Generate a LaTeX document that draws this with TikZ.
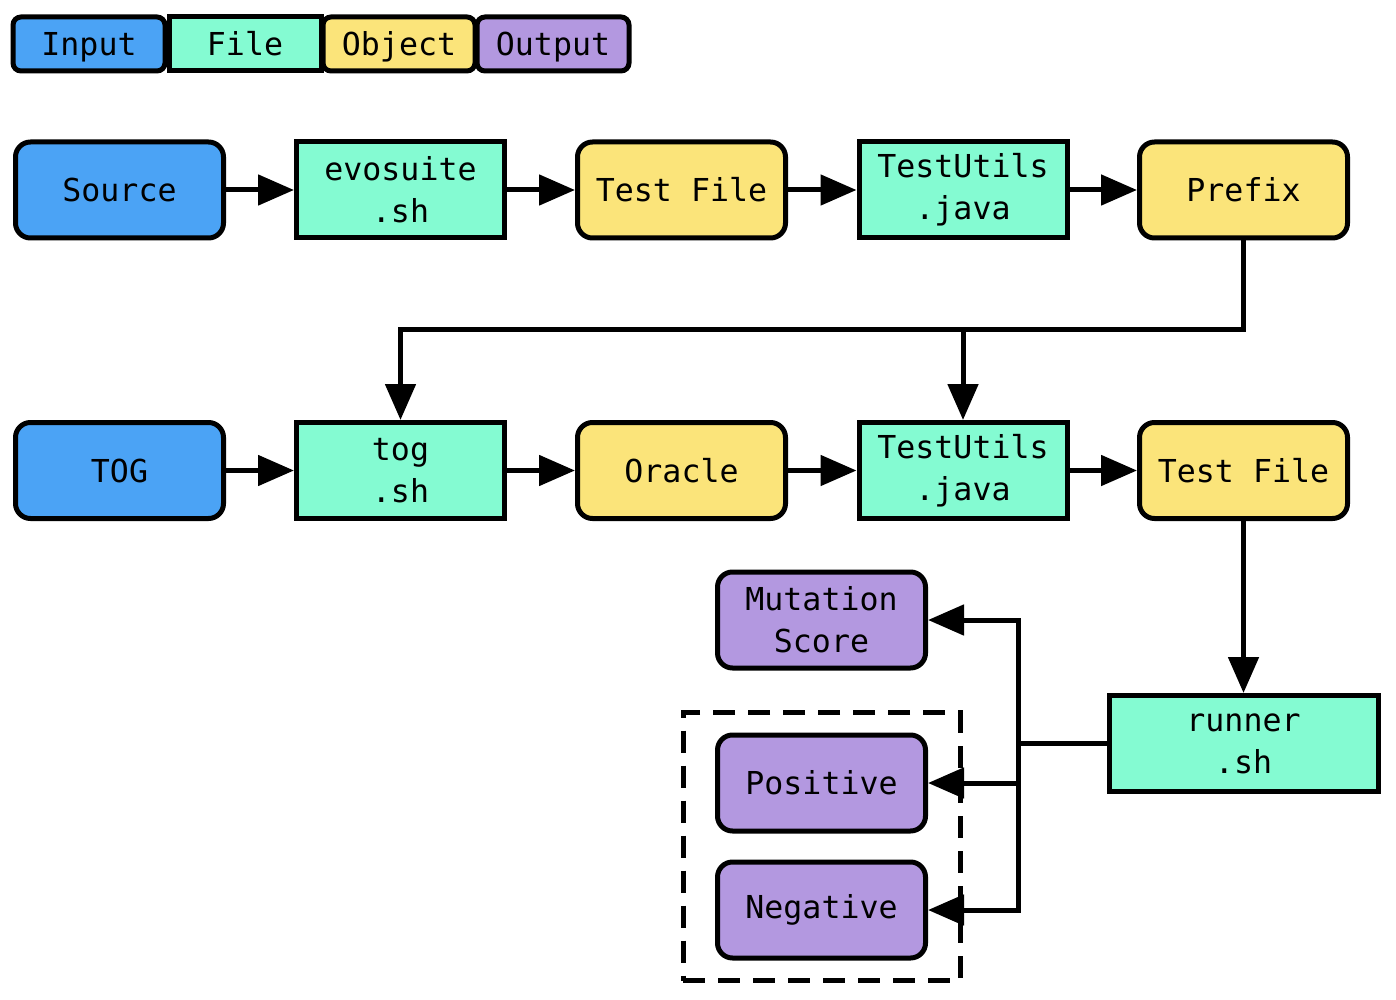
\documentclass[tikz,border=0pt]{standalone}
\usepackage{fontspec}
\setmonofont{DejaVu Sans Mono}
\usetikzlibrary{arrows.meta, positioning, fit}

\definecolor{inputblue}{RGB}{75,163,245}
\definecolor{filegreen}{RGB}{132,251,210}
\definecolor{objyellow}{RGB}{251,228,122}
\definecolor{outpurple}{RGB}{179,152,224}

\tikzset{
  box/.style={draw, line width=2.5pt, minimum width=104pt, minimum height=48pt, inner sep=0pt, align=center, font=\ttfamily\fontsize{15.8}{21}\selectfont},
  inbox/.style={box, fill=inputblue, rounded corners=7.5pt},
  filebox/.style={box, fill=filegreen},
  objbox/.style={box, fill=objyellow, rounded corners=7.5pt},
  outbox/.style={box, fill=outpurple, rounded corners=7.5pt},
  legend/.style={minimum width=76pt, minimum height=27pt, text height=14pt, text depth=2pt},
  flow/.style={-{Triangle[length=18pt,width=15pt]}, line width=2.5pt},
  link/.style={line width=2.5pt},
}

\begin{document}
\begin{tikzpicture}[x=0.5pt, y=-0.5pt]
  \useasboundingbox (0,0) rectangle (1396,1000);

  % Legend
  \node[inbox, legend, rounded corners=4pt] (lin) at (89,44) {Input};
  \node[filebox, legend] (lfile) at (245,44) {File};
  \node[objbox, legend, rounded corners=4pt] (lobj) at (399,44) {Object};
  \node[outbox, legend, rounded corners=4pt] (lout) at (553,44) {Output};

  % Nodes
  \node[inbox] (src) at (119.5,190) {Source};
  \node[filebox] (evo) at (400.5,190) {evosuite\\.sh};
  \node[objbox] (tfa) at (681.5,190) {Test File};
  \node[filebox] (utila) at (963,190) {TestUtils\\.java};
  \node[objbox] (prefix) at (1243.5,190) {Prefix};

  \node[inbox] (tog) at (119.5,470.5) {TOG};
  \node[filebox] (togsh) at (400.5,470.5) {tog\\.sh};
  \node[objbox] (oracle) at (681.5,470.5) {Oracle};
  \node[filebox] (utilb) at (963,470.5) {TestUtils\\.java};
  \node[objbox] (tfb) at (1243.5,470.5) {Test File};

  \node[outbox] (score) at (821.5,620) {Mutation\\Score};
  \node[outbox] (pos) at (821.5,783) {Positive};
  \node[outbox] (neg) at (821.5,910) {Negative};
  \node[filebox, minimum width=134.5pt] (runner) at (1243.5,743.5) {runner\\.sh};

  \node[draw, line width=2.5pt, dash pattern=on 11pt off 6.5pt, fit=(pos)(neg), inner xsep=16pt, inner ysep=10pt] (group) {};

  \coordinate (fork) at (963,329);
  \coordinate (hub) at (1018,743.5);

  % Edges
  \draw[flow] (src) -- (evo);
  \draw[flow] (evo) -- (tfa);
  \draw[flow] (tfa) -- (utila);
  \draw[flow] (utila) -- (prefix);
  \draw[link] (prefix.south) |- (fork);
  \draw[flow] (fork) -| (togsh.north);
  \draw[flow] (fork) -- (utilb.north);

  \draw[flow] (tog) -- (togsh);
  \draw[flow] (togsh) -- (oracle);
  \draw[flow] (oracle) -- (utilb);
  \draw[flow] (utilb) -- (tfb);
  \draw[flow] (tfb.south) -- (runner.north);

  \draw[link] (runner.west) -- (hub);
  \draw[flow] (hub) |- (score.east);
  \draw[flow] (hub) |- (neg.east);
  \draw[flow] (hub |- pos.east) -- (pos.east);
\end{tikzpicture}
\end{document}
